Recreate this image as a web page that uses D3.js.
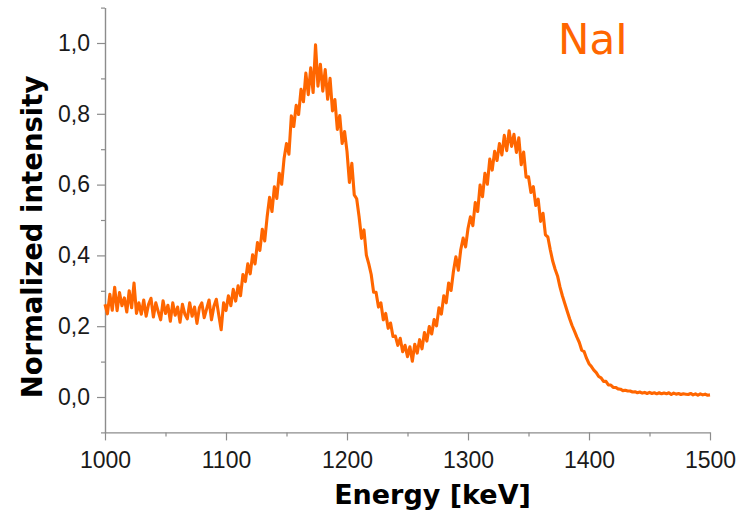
<!DOCTYPE html>
<html>
<head>
<meta charset="utf-8">
<script src="https://cdn.jsdelivr.net/npm/d3@7"></script>
<style>
  html, body { margin: 0; padding: 0; background: #fff; }
  svg { display: block; }
</style>
</head>
<body>
<svg id="chart" width="746" height="513"></svg>
<script>
// ---- data ----
const energyStart = 1000;   // keV
const energyStep = 2;       // keV per sample
const intensity = [
  .262, .235, .290, .245, .310,  .244, .295, .258, .280, .240,
  .300, .252, .322, .236, .266,  .234, .274, .228, .262, .279,
  .226, .266, .241, .218, .272,  .236, .259, .214, .266, .231,
  .254, .211, .262, .234, .221,  .266, .228, .254, .208, .252,
  .266, .224, .249, .274, .218,  .256, .276, .232, .190, .266,
  .244, .286, .258, .304, .271,  .314, .286, .346, .326, .376,
  .348, .402, .376, .436, .414,  .474, .441, .509, .564, .524,
  .594, .561, .632, .601, .674,  .716, .686, .794, .764, .824,
  .798, .869, .834, .915, .854,  .930, .860, .995, .878, .940,
  .864, .925, .841, .900, .808,  .840, .756, .795, .716, .750,
  .694, .606, .660, .571, .560,  .509, .448, .472, .401, .376,
  .346, .296, .296, .254, .266,  .218, .236, .194, .209, .171,
  .172, .146, .166, .128, .146,  .114, .142, .101, .149, .124,
  .162, .136, .182, .158, .199,  .178, .219, .201, .252, .234,
  .286, .266, .322, .301, .356,  .396, .358, .416, .449, .424,
  .476, .509, .484, .549, .524,  .599, .566, .632, .601, .672,
  .641, .694, .668, .716, .684,  .739, .696, .752, .708, .742,
  .691, .732, .656, .692, .621,  .622, .578, .594, .541, .559,
  .496, .519, .458, .452, .416,  .384, .361, .342, .311, .286,
  .264, .242, .221, .202, .186,  .169, .154, .132, .128, .109,
  .094, .086, .076, .069, .058,  .054, .044, .044, .034, .034,
  .027, .027, .023, .022, .018,  .019, .017, .017, .014, .015,
  .012, .014, .011, .013, .010,  .013, .010, .012, .009, .012,
  .009, .011, .009, .012, .007,  .011, .008, .010, .007, .009,
  .008, .007, .010, .006, .009,  .005, .009, .006, .008, .005,
  .006
];
const xTicks = [1000, 1100, 1200, 1300, 1400, 1500];
const xMinorTicks = [1050, 1150, 1250, 1350, 1450];
const yTicks = [0.0, 0.2, 0.4, 0.6, 0.8, 1.0];
const yTickLabels = ["0,0", "0,2", "0,4", "0,6", "0,8", "1,0"];
const yMinorTicks = [-0.1, 0.1, 0.3, 0.5, 0.7, 0.9, 1.1];
const xTitle = "Energy [keV]";
const yTitle = "Normalized intensity";
const sampleLabel = "NaI";

// ---- drawing ----
const energies = intensity.map((_, i) => energyStart + i * energyStep);
const svg = d3.select("#chart");
const orange = "#ff6600";
const axisGray = "#8c8c8c";

const x = d3.scaleLinear().domain([1000, 1500]).range([105, 710]);
const y = d3.scaleLinear().domain([-0.1, 1.1]).range([432.4, 7.6]);

// minor ticks
const xMinor = svg.append("g").attr("transform", `translate(0,${y(-0.1)})`)
  .call(d3.axisBottom(x).tickValues(xMinorTicks).tickSize(4).tickFormat(""));
const yMinor = svg.append("g").attr("transform", `translate(${x(1000)},0)`)
  .call(d3.axisLeft(y).tickValues(yMinorTicks).tickSize(4).tickFormat(""));
[xMinor, yMinor].forEach(g => {
  g.select(".domain").remove();
  g.selectAll("line").attr("stroke", axisGray).attr("stroke-width", 1.2);
});

// major axes
const xAxis = svg.append("g").attr("transform", `translate(0,${y(-0.1)})`)
  .call(d3.axisBottom(x).tickValues(xTicks).tickSize(8).tickPadding(11).tickSizeOuter(0)
    .tickFormat(d => String(d)));
const yAxis = svg.append("g").attr("transform", `translate(${x(1000)},0)`)
  .call(d3.axisLeft(y).tickValues(yTicks).tickSize(8).tickPadding(7).tickSizeOuter(0)
    .tickFormat((d, i) => yTickLabels[i]));
[xAxis, yAxis].forEach(g => {
  g.select(".domain").attr("stroke", axisGray).attr("stroke-width", 1.4);
  g.selectAll("line").attr("stroke", axisGray).attr("stroke-width", 1.2);
  g.selectAll("text")
    .attr("fill", "#1a1a1a")
    .style("font-family", "'Liberation Sans', Arial, sans-serif")
    .style("font-size", "23px");
});

// data line
const line = d3.line()
  .x((d, i) => x(energies[i]))
  .y(d => y(d));
svg.append("path")
  .datum(intensity)
  .attr("fill", "none")
  .attr("stroke", orange)
  .attr("stroke-width", 3.1)
  .attr("stroke-linejoin", "round")
  .attr("d", line);

// axis titles
svg.append("text")
  .attr("x", 432.5).attr("y", 504)
  .attr("text-anchor", "middle")
  .style("font-family", "'DejaVu Sans', Verdana, sans-serif")
  .style("font-weight", "bold")
  .style("font-size", "27px")
  .attr("fill", "#000")
  .text(xTitle);

svg.append("text")
  .attr("transform", "translate(41.5,237) rotate(-90)")
  .attr("text-anchor", "middle")
  .style("font-family", "'DejaVu Sans', Verdana, sans-serif")
  .style("font-weight", "bold")
  .style("font-size", "27.5px")
  .attr("fill", "#000")
  .text(yTitle);

// sample label
svg.append("text")
  .attr("x", 558).attr("y", 54)
  .style("font-family", "'DejaVu Sans', Verdana, sans-serif")
  .style("font-size", "42px")
  .attr("fill", orange)
  .text(sampleLabel);
</script>
</body>
</html>
